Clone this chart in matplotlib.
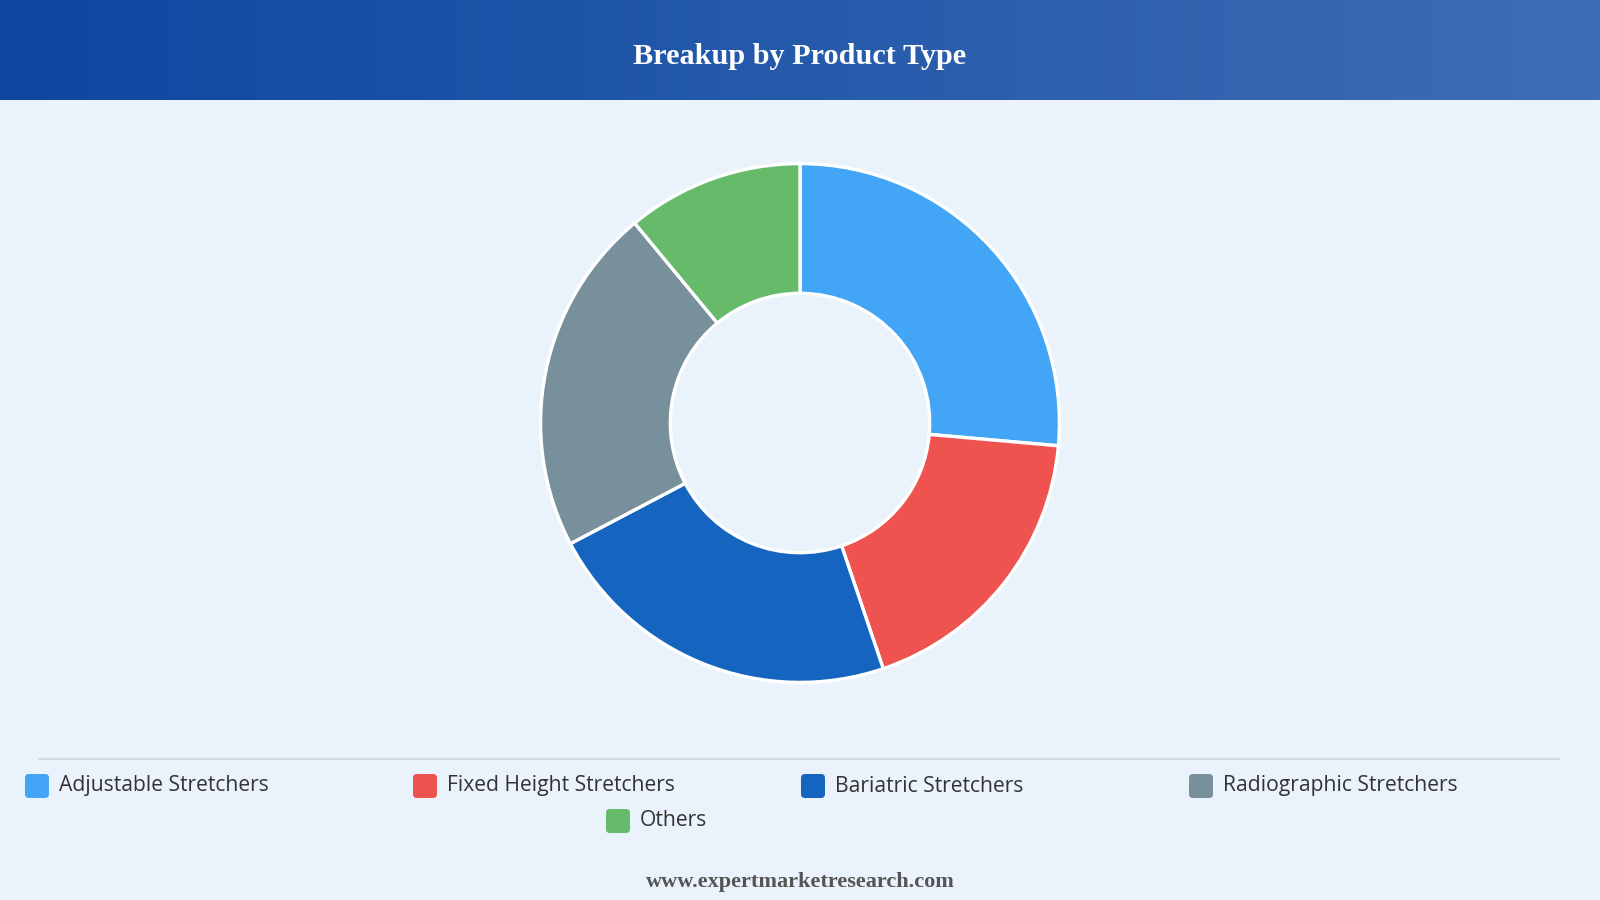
import matplotlib
matplotlib.use("Agg")
import numpy as np
import matplotlib.pyplot as plt
from matplotlib.colors import LinearSegmentedColormap
from matplotlib.patches import FancyBboxPatch

# ─── Data ─────────────────────────────────────────────────────────────────────
TITLE = "Breakup by Product Type"
FOOTER = "www.expertmarketresearch.com"
categories = ["Adjustable Stretchers", "Fixed Height Stretchers", "Bariatric Stretchers",
              "Radiographic Stretchers", "Others"]
shares = [26.4, 18.4, 22.5, 21.7, 11.0]
colors = ["#42A5F5", "#EF5350", "#1565C0", "#78909C", "#66BB6A"]

# ─── Style ────────────────────────────────────────────────────────────────────
W, H = 1600, 900
BG = "#EAF2FB"
HEADER_LEFT, HEADER_RIGHT = "#0D47A1", "#3E6DB5"
HEADER_H = 100

fig = plt.figure(figsize=(W / 100, H / 100), dpi=100, facecolor=BG)

# full-figure overlay in pixel coordinates
bg = fig.add_axes([0, 0, 1, 1], zorder=0)
bg.axis("off")

# header gradient band
grad = np.linspace(0, 1, 512).reshape(1, -1)
cmap = LinearSegmentedColormap.from_list("hdr", [HEADER_LEFT, HEADER_RIGHT])
bg.imshow(grad, cmap=cmap, extent=(0, W, HEADER_H, 0), aspect="auto")
bg.set_xlim(0, W)
bg.set_ylim(H, 0)
bg.text(W / 2, 57, TITLE, ha="center", va="center", color="white",
        fontsize=21.8, fontweight="bold", family="Liberation Serif")

# separator above legend
bg.plot([39, 1559], [759, 759], color="#D6DAE0", lw=1.5)

# legend: 4 per row, remaining row centred
col_w, x0, sq = 388, 25, 24
rows = [(0, 4), (4, len(categories))]
row_y = [786, 821]
for r, (a, b) in enumerate(rows):
    n = b - a
    if n == 4:
        xs = [x0 + i * col_w for i in range(n)]
    else:
        xs = [606]
    for x, lab, c in zip(xs, categories[a:b], colors[a:b]):
        bg.add_patch(FancyBboxPatch((x, row_y[r] - sq / 2), sq, sq,
                                    boxstyle="round,pad=0,rounding_size=4",
                                    fc=c, ec="none"))
        bg.text(x + sq + 10, row_y[r], lab, ha="left", va="center",
                fontsize=15.2, color="#333333", family="Open Sans")

bg.text(W / 2, 882, FOOTER, ha="center", va="center", color="#555555",
        fontsize=16, fontweight="bold", family="Liberation Serif")

# ─── Donut ────────────────────────────────────────────────────────────────────
cx, cy, R = 800, 423, 262
ax = fig.add_axes([(cx - R) / W, 1 - (cy + R) / H, 2 * R / W, 2 * R / H], zorder=2)
ax.set_facecolor("none")
ax.pie(shares, colors=colors, startangle=90, counterclock=False, radius=1,
       wedgeprops=dict(width=0.5, edgecolor="white", linewidth=2.4))
ax.set_xlim(-1.01, 1.01)
ax.set_ylim(-1.01, 1.01)
ax.set_aspect("auto")

fig.savefig("out.png", dpi=100, facecolor=BG)
